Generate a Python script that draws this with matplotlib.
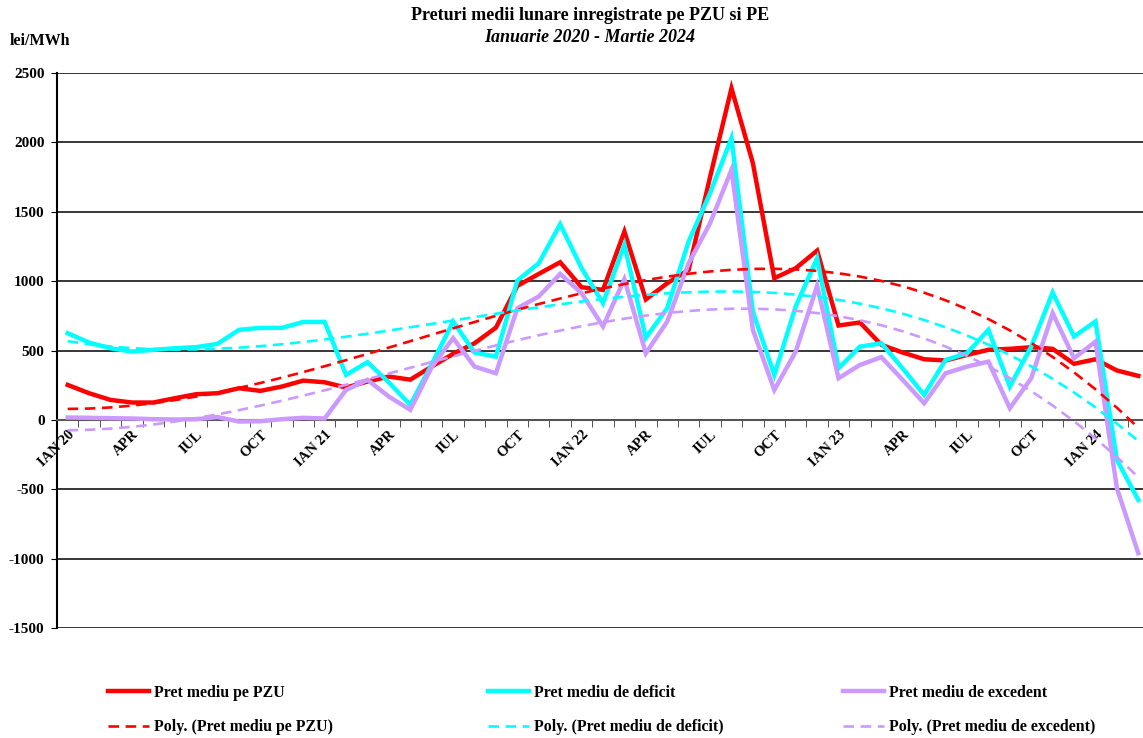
import numpy as np
import matplotlib.pyplot as plt

plt.rcParams["font.family"] = ["Liberation Serif", "DejaVu Serif"]
plt.rcParams["font.weight"] = "bold"
plt.rcParams["axes.unicode_minus"] = False

# Ianuarie 2020 - Martie 2024, 51 luni
luni = ["IAN 20", "", "", "APR", "", "", "IUL", "", "", "OCT", "", "",
        "IAN 21", "", "", "APR", "", "", "IUL", "", "", "OCT", "", "",
        "IAN 22", "", "", "APR", "", "", "IUL", "", "", "OCT", "", "",
        "IAN 23", "", "", "APR", "", "", "IUL", "", "", "OCT", "", "",
        "IAN 24", "", ""]

pzu = [252, 192, 144, 125, 125, 156, 185, 192, 228, 209, 240, 283,
       271, 233, 276, 312, 290, 384, 476, 552, 665, 966, 1052, 1136,
       956, 937, 1357, 868, 985, 1081, 1750, 2390, 1850, 1021, 1093, 1220,
       680, 702, 541, 485, 437, 428, 468, 505, 512, 524, 512, 404,
       437, 356, 317]

deficit = [625, 557, 516, 492, 505, 516, 524, 548, 649, 663, 663, 706,
           706, 324, 416, 270, 108, 400, 709, 485, 456, 1004, 1129, 1410,
           1093, 841, 1261, 592, 805, 1285, 1634, 2030, 780, 324, 817, 1165,
           372, 528, 552, 370, 180, 432, 480, 649, 240, 528, 918, 601,
           709, -288, -577]

excedent = [17, 15, 12, 10, 5, 3, 5, 20, -12, -10, 5, 15,
            10, 216, 288, 168, 72, 380, 589, 384, 336, 805, 889, 1052,
            913, 673, 1014, 480, 709, 1129, 1417, 1802, 649, 216, 492, 966,
            300, 396, 452, 288, 120, 336, 384, 420, 84, 300, 769, 444,
            564, -492, -961]

culori = ["#FF0000", "#00FFFF", "#CC99FF"]
nume = ["Pret mediu pe PZU", "Pret mediu de deficit", "Pret mediu de excedent"]

x = np.arange(len(pzu))

fig = plt.figure(figsize=(11.43, 7.38), dpi=100)
fig.patch.set_facecolor("white")
# axa se intinde putin peste marginea din dreapta, ca in original
ax = fig.add_axes([57 / 1143, 1 - 628 / 738, 1092 / 1143, 555 / 738])

ax.set_xlim(-0.5, len(pzu) - 0.5)
ax.set_ylim(-1500, 2500)
ax.set_yticks(np.arange(-1500, 2501, 500))
ax.yaxis.grid(True, color="black", linewidth=1.1)
ax.set_axisbelow(True)

serii = []
trenduri = []
for vals, c, n in zip([pzu, deficit, excedent], culori, nume):
    l, = ax.plot(x, vals, color=c, linewidth=3.2, solid_joinstyle="miter", label=n, zorder=3)
    serii.append(l)
for vals, c, n in zip([pzu, deficit, excedent], culori, nume):
    coef = np.polyfit(x, vals, 3)
    t, = ax.plot(x, np.polyval(coef, x), color=c, linewidth=1.9, linestyle=(0, (4, 2.5)),
                 label=f"Poly. ({n})", zorder=4)
    trenduri.append(t)

for s in ["top", "right"]:
    ax.spines[s].set_visible(False)
ax.spines["bottom"].set_position(("data", 0))
ax.spines["bottom"].set_color("#555555")
ax.spines["bottom"].set_linewidth(1.5)
ax.spines["left"].set_linewidth(1.5)

ax.set_xticks(x)
ax.set_xticklabels(luni, rotation=45, ha="right", va="top", rotation_mode="anchor",
                   fontsize=10.5, fontweight="bold")
ax.tick_params(axis="x", which="major", length=0, pad=6)
ax.set_xticks(np.arange(-0.5, len(pzu), 1), minor=True)
ax.tick_params(axis="x", which="minor", length=5, direction="out", color="#333333")
ax.tick_params(axis="y", length=4, direction="out", labelsize=11, pad=5)
for lbl in ax.get_yticklabels():
    lbl.set_fontweight("bold")

fig.text(590 / 1143, 1 - 15 / 738, "Preturi medii lunare inregistrate pe PZU si PE",
         ha="center", va="center", fontsize=13, fontweight="bold")
fig.text(590 / 1143, 1 - 38 / 738, "Ianuarie 2020 - Martie 2024",
         ha="center", va="center", fontsize=13, fontweight="bold", style="italic")
fig.text(10 / 1143, 1 - 41 / 738, "lei/MWh", ha="left", va="center",
         fontsize=11.5, fontweight="bold")

# legenda: trei coloane, fiecare cu serie + trend
for k, xpos in enumerate([108, 488, 843]):
    leg = fig.legend([serii[k], trenduri[k]], [serii[k].get_label(), trenduri[k].get_label()],
                     loc="upper left", bbox_to_anchor=(xpos / 1143, 1 - 685 / 738),
                     frameon=False, handlelength=2.6, handletextpad=0.3,
                     labelspacing=1.15, borderaxespad=0, borderpad=0,
                     prop={"weight": "bold", "size": 11.4})

fig.savefig("out.png", dpi=100, facecolor="white")
